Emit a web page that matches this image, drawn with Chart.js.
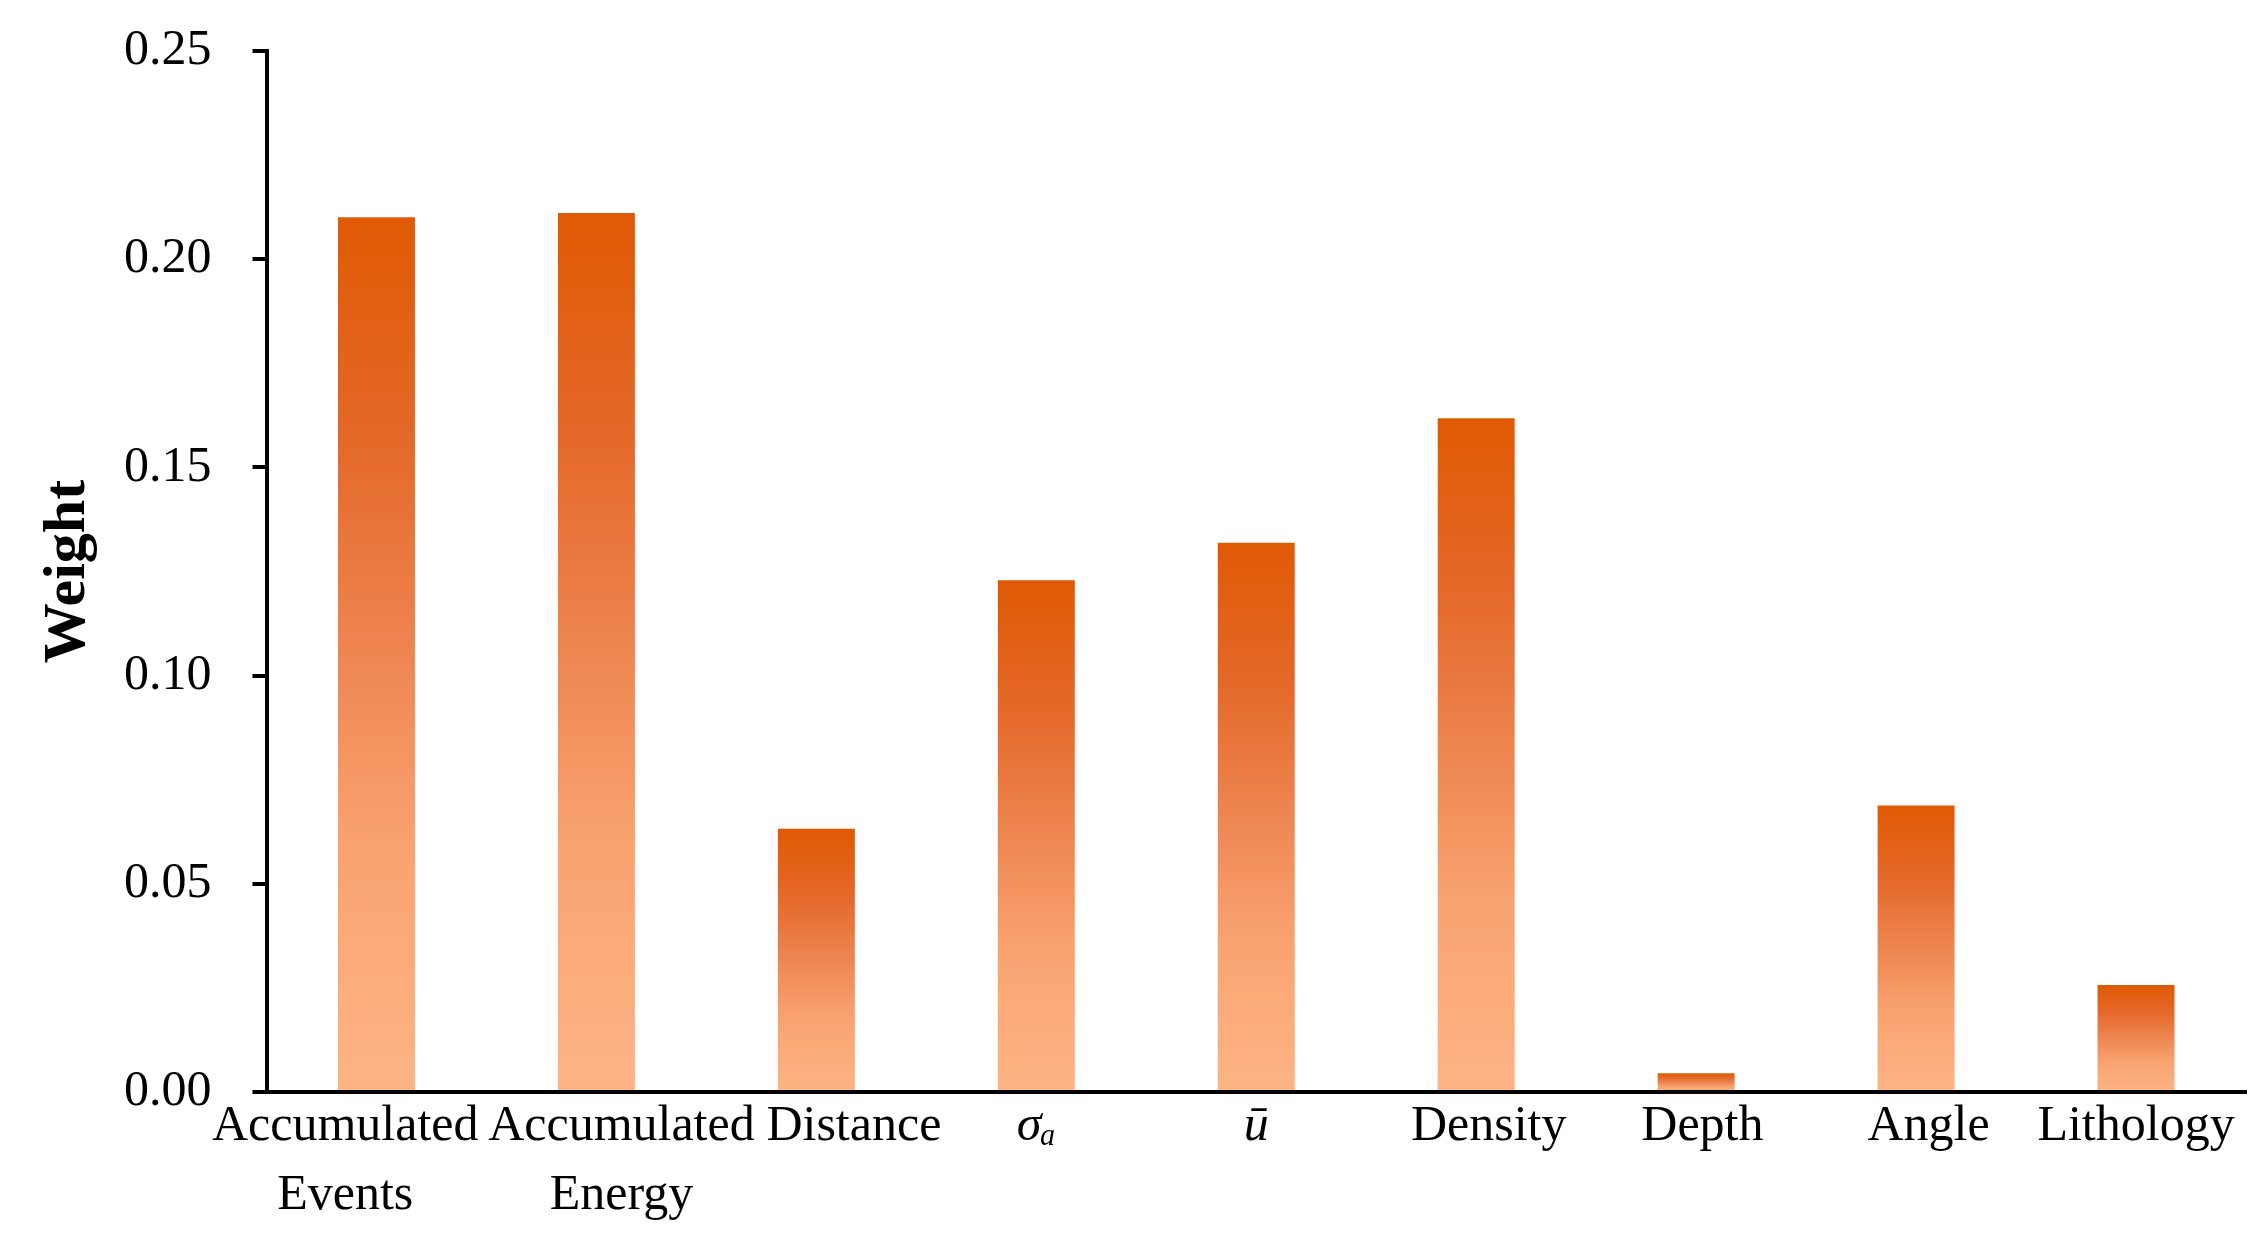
<!DOCTYPE html>
<html>
<head>
<meta charset="utf-8">
<script src="https://cdn.jsdelivr.net/npm/chart.js@4/dist/chart.umd.min.js"></script>
<style>
html,body{margin:0;padding:0;background:#fff;}
#wrap{width:2264px;height:1255px;position:relative;}
</style>
</head>
<body>
<div id="wrap"><canvas id="c" width="2264" height="1255"></canvas></div>
<script>
const categories = [
  ["Accumulated     ", "Events     "],
  ["    Accumulated", "    Energy"],
  "      Distance",
  "σₐ",
  "ū",
  "  Density",
  " Depth",
  "  Angle",
  "Lithology"
];
const weights = [0.2101, 0.2111, 0.0632, 0.1229, 0.1319, 0.1618, 0.0045, 0.0688, 0.0257];
const yTicks = [0, 0.05, 0.10, 0.15, 0.20, 0.25];
const yTitle = "Weight";

function barGradient(ctx) {
  const chart = ctx.chart;
  const ys = chart.scales.y;
  if (!ys || ctx.type !== 'data') return '#E86A20';
  const v = ctx.raw;
  const top = ys.getPixelForValue(v);
  const base = ys.getPixelForValue(0);
  if (!isFinite(top) || !isFinite(base) || top === base) return '#E86A20';
  const g = chart.ctx.createLinearGradient(0, top, 0, base);
  g.addColorStop(0, 'rgb(224,90,4)');
  g.addColorStop(0.25, 'rgb(228,104,40)');
  g.addColorStop(0.5, 'rgb(238,134,82)');
  g.addColorStop(0.72, 'rgb(249,163,112)');
  g.addColorStop(1, 'rgb(253,180,132)');
  return g;
}

const serif = "'Liberation Serif', 'Times New Roman', serif";

new Chart(document.getElementById('c'), {
  type: 'bar',
  data: {
    labels: categories,
    datasets: [{
      data: weights,
      backgroundColor: barGradient,
      borderWidth: 0,
      categoryPercentage: 1.0,
      barPercentage: 0.35
    }]
  },
  options: {
    responsive: false,
    animation: false,
    maintainAspectRatio: false,
    layout: { padding: { left: 32, right: 18, top: 0, bottom: 25 } },
    plugins: { legend: { display: false }, tooltip: { enabled: false } },
    scales: {
      x: {
        grid: { display: false, drawTicks: false },
        border: { display: true, color: '#000', width: 4 },
        ticks: {
          color: '#000',
          padding: 0,
          maxRotation: 0,
          autoSkip: false,
          font: (c) => ({ family: serif, size: 50, lineHeight: 1.38, style: (c.index === 3 || c.index === 4) ? 'italic' : 'normal' })
        }
      },
      y: {
        min: 0,
        max: 0.25,
        afterBuildTicks: (axis) => { axis.ticks = yTicks.map(v => ({ value: v })); },
        grid: { display: true, drawOnChartArea: false, drawTicks: true, tickLength: 14, color: '#000', lineWidth: 4 },
        border: { display: true, color: '#000', width: 4 },
        ticks: {
          color: '#000',
          padding: 41,
          font: { family: serif, size: 50, lineHeight: 0.4 },
          callback: (v) => Number(v).toFixed(2)
        },
        title: {
          display: true,
          text: yTitle,
          color: '#000',
          font: { family: serif, size: 60, weight: 'bold' },
          padding: { top: 0, bottom: -21 }
        }
      }
    }
  }
});
</script>
</body>
</html>
